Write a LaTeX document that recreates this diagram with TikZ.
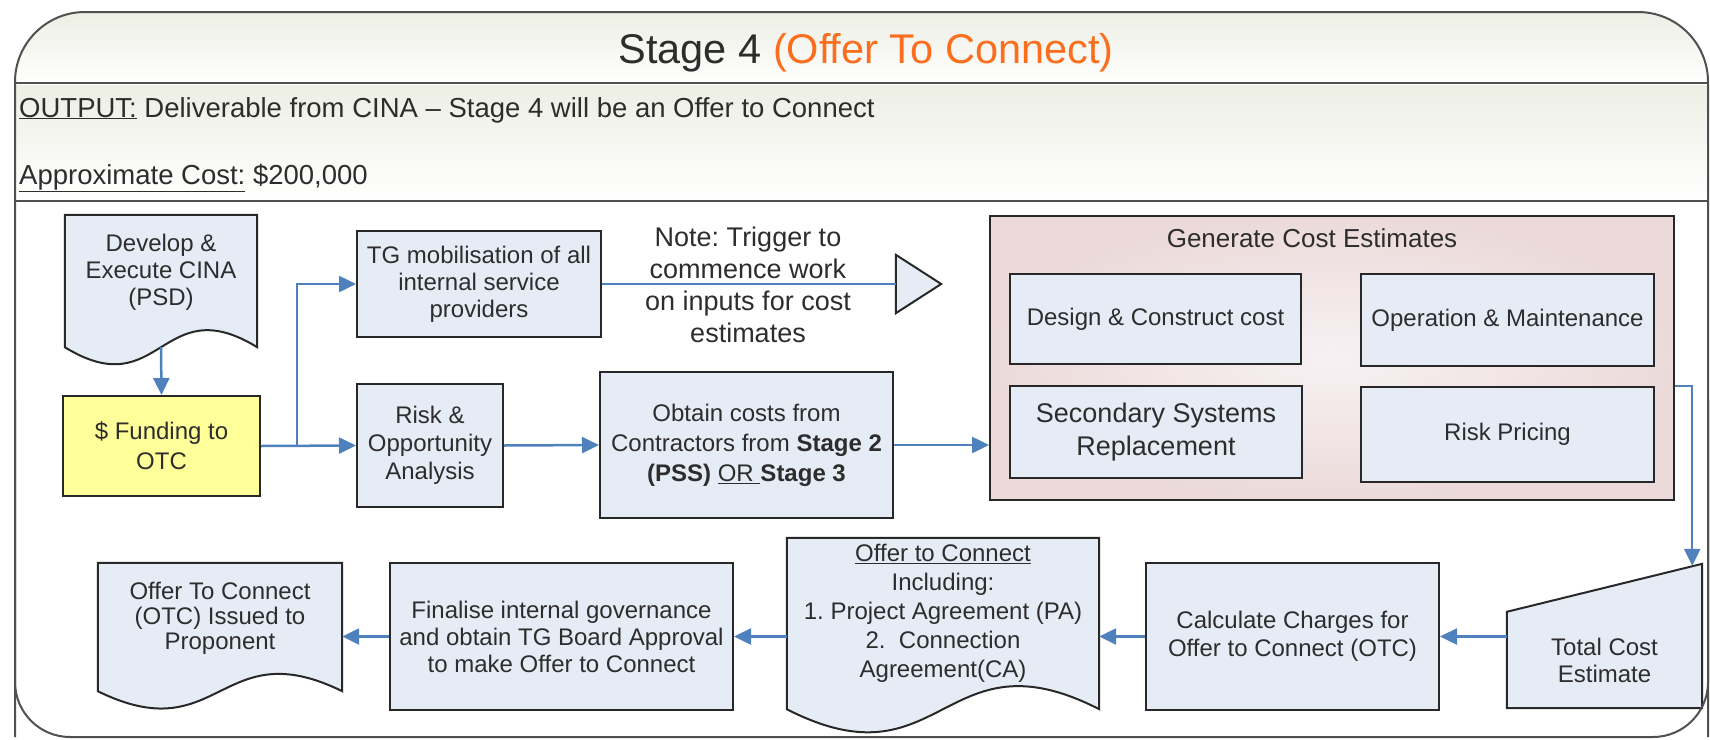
\documentclass[tikz,border=0pt]{standalone}
\usepackage{fontspec}
\setmainfont{Liberation Sans}
\usetikzlibrary{arrows.meta,calc,backgrounds}
\frenchspacing

\definecolor{boxblue}{RGB}{230,236,246}
\definecolor{lineblue}{RGB}{79,129,189}
\definecolor{boxline}{RGB}{40,40,40}
\definecolor{fundyellow}{RGB}{255,255,153}
\definecolor{pinkout}{RGB}{236,218,218}
\definecolor{pinkin}{RGB}{247,241,243}
\definecolor{bandtop}{RGB}{237,238,228}
\definecolor{frameline}{RGB}{80,80,80}
\definecolor{titleorange}{RGB}{250,110,30}
\definecolor{txtgray}{RGB}{45,45,45}

\tikzset{
  box/.style={draw=boxline, line width=2pt, fill=boxblue, text=txtgray, align=center,
    inner sep=2pt, font=\fontsize{24}{27}\selectfont},
  txt/.style={text=txtgray, align=center, inner sep=0pt, font=\fontsize{24}{27}\selectfont},
  shapeline/.style={draw=boxline, line width=2pt, fill=boxblue},
  arr/.style={draw=lineblue, line width=2.5pt, -{Triangle[length=17pt,width=16pt]}},
  thinline/.style={draw=lineblue, line width=1.5pt},
  bandline/.style={draw=frameline, line width=2pt}
}

% document shape under a text node: #1 node, #2 side drop, #3 wave
\newcommand{\docpath}[3]{%
  \filldraw[shapeline] (#1.north west) -- (#1.north east) -- ($(#1.south east)+(0,#2)$)
    .. controls ($(#1.south)+(0,#2-#3)$) and ($(#1.south)+(0,#2+#3)$) .. ($(#1.south west)+(0,#2)$) -- cycle;}

\begin{document}
\begin{tikzpicture}[x=1pt,y=-1pt]
  \useasboundingbox (0,0) rectangle (1710,739);

  \begin{scope}
    \clip[rounded corners=70] (15,737) -- (15,12) -- (1708,12) -- (1708,737) -- cycle;
    \fill[top color=bandtop, bottom color=white] (15,12) rectangle (1708,83);
    \fill[top color=bandtop, bottom color=white] (15,85) rectangle (1708,201);
  \end{scope}
  \draw[bandline] (15,83) -- (1708,83);
  \draw[bandline] (15,201) -- (1708,201);
  \draw[frameline, line width=2pt, rounded corners=70] (15,737) -- (15,12) -- (1708,12) -- (1708,737);
  \draw[frameline, line width=2pt, rounded corners=55] (15,400) -- (15,737) -- (1708,737) -- (1708,400);

  \node[anchor=base, text=txtgray, font=\fontsize{41.5}{44}\selectfont] (title) at (866,63)
    {Stage 4 \textcolor{titleorange}{(Offer To Connect)}};
  \node[anchor=base west, txt, font=\fontsize{27.5}{30}\selectfont] (output) at (19,117)
    {\underline{OUTPUT:} Deliverable from CINA – Stage 4 will be an Offer to Connect};
  \node[anchor=base west, txt, font=\fontsize{27.5}{30}\selectfont] (cost) at (19,184)
    {\underline{Approximate Cost:} \$200,000};

  \node[txt, minimum width=192, minimum height=114] (dev) at (161,272) {Develop \&\\Execute CINA\\(PSD)};
  \node[box, fill=fundyellow, minimum width=197, minimum height=100, font=\fontsize{24}{30}\selectfont]
    (fund) at (161.5,446) {\$ Funding to\\OTC};
  \node[box, minimum width=244, minimum height=106] (tg) at (479,284)
    {TG mobilisation of all\\internal service\\providers};
  \node[box, minimum width=146, minimum height=123, font=\fontsize{24}{28}\selectfont] (risk) at (430,445.5)
    {Risk \&\\Opportunity\\Analysis};
  \node[box, minimum width=293, minimum height=146, font=\fontsize{24}{30}\selectfont] (obtain) at (746.5,445)
    {Obtain costs from\\Contractors from \textbf{Stage 2}\\\textbf{(PSS)} \underline{OR\ }\textbf{Stage 3}};
  \node[txt, font=\fontsize{27}{32}\selectfont] (note) at (748,285)
    {Note: Trigger to\\commence work\\on inputs for cost\\estimates};
  \node[txt, minimum width=45, minimum height=58] (trig) at (918.5,284) {};

  \node[draw=boxline, line width=2pt, inner color=pinkin, outer color=pinkout,
    minimum width=684, minimum height=284] (cont) at (1332,358) {};
  \node[txt, font=\fontsize{26}{30}\selectfont] (conttitle) at (1312,238) {Generate Cost Estimates};
  \node[box, minimum width=291, minimum height=90] (dc) at (1155.5,319) {Design \& Construct cost};
  \node[box, minimum width=293, minimum height=92] (om) at (1507.5,320) {Operation \& Maintenance};
  \node[box, minimum width=292, minimum height=92, font=\fontsize{27}{33}\selectfont] (ssr) at (1156,432)
    {Secondary Systems\\Replacement};
  \node[box, minimum width=293, minimum height=95] (rp) at (1507.5,434.5) {Risk Pricing};

  \node[txt, minimum width=195, minimum height=96] (total) at (1604.5,660) {Total Cost\\Estimate};
  \node[box, minimum width=293, minimum height=147, font=\fontsize{24}{28}\selectfont] (calc) at (1292.5,636.5)
    {Calculate Charges for\\Offer to Connect (OTC)};
  \node[txt, minimum width=312, minimum height=150, font=\fontsize{24}{29}\selectfont] (offer) at (943,613)
    {\underline{Offer to Connect}\\Including:\\1. Project Agreement (PA)\\2.\ \ Connection\\Agreement(CA)};
  \node[box, minimum width=343, minimum height=147] (final) at (561.5,636.5)
    {Finalise internal governance\\and obtain TG Board Approval\\to make Offer to Connect};
  \node[txt, minimum width=244, minimum height=110, font=\fontsize{24}{25}\selectfont] (otc) at (220,618)
    {Offer To Connect\\(OTC) Issued to\\Proponent};

  \begin{pgfonlayer}{background}
    \docpath{dev}{18}{59}
    \docpath{offer}{21}{80}
    \docpath{otc}{18}{60}
    \filldraw[shapeline] (trig.north west) -- (trig.east) -- (trig.south west) -- cycle;
    \filldraw[shapeline] (total.north west) -- ($(total.north east)+(0,-48)$) -- (total.south east)
      -- (total.south west) -- cycle;
  \end{pgfonlayer}

  \coordinate (devout) at ($(dev.south)+(0,18)$);
  \coordinate (split) at ($(fund.east)+(36,0)$);
  \coordinate (tin) at ($(total.north east)+(-10,-46)$);
  \draw[arr] (devout) -- (fund.north);
  \draw[arr] (fund.east) -- (risk.west);
  \draw[arr] (split) |- (tg.west);
  \draw[arr] (risk.east) -- (obtain.west);
  \draw[thinline] (tg.east) -- (trig.west);
  \draw[arr] (obtain.east) -- (obtain.east -| cont.west);
  \draw[arr] (rp.north -| cont.east) -| (tin);
  \draw[arr] (calc.east -| total.west) -- (calc.east);
  \draw[arr] (calc.west) -- (calc.west -| offer.east);
  \draw[arr] (final.east -| offer.west) -- (final.east);
  \draw[arr] (final.west) -- (final.west -| otc.east);
\end{tikzpicture}
\end{document}
